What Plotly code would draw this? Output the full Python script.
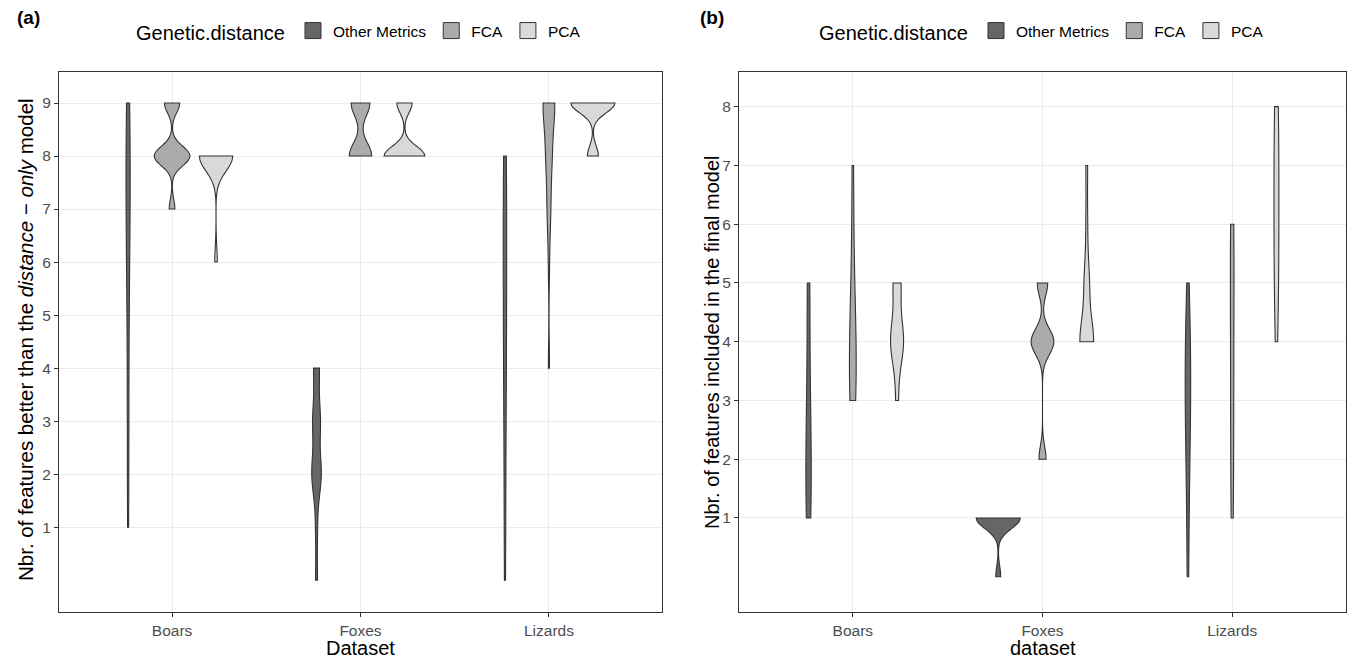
import numpy as np
import plotly.graph_objects as go

# ---------------- data ----------------
datasets = ["Boars", "Foxes", "Lizards"]
groups = ["Other Metrics", "FCA", "PCA"]

# Panel (a): number of runs (counts) per "number of features better than the distance-only model"
values_a = [0, 1, 2, 3, 4, 5, 6, 7, 8, 9]
a_boars_other = [0, 1, 1, 1, 1, 1, 2, 3, 3, 3]
a_boars_fca = [0, 0, 0, 0, 0, 0, 0, 20, 126, 54]
a_boars_pca = [0, 0, 0, 0, 0, 0, 1, 0, 13, 0]
a_foxes_other = [1, 1, 5, 4, 3, 0, 0, 0, 0, 0]
a_foxes_fca = [0, 0, 0, 0, 0, 0, 0, 0, 12, 10]
a_foxes_pca = [0, 0, 0, 0, 0, 0, 0, 0, 40, 15]
a_lizards_other = [1, 1, 1, 1, 2, 2, 2, 2, 3, 0]
a_lizards_fca = [0, 0, 0, 0, 1, 0, 1, 3, 5, 10]
a_lizards_pca = [0, 0, 0, 0, 0, 0, 0, 0, 6, 24]

# Panel (b): counts per "number of features included in the final model"
values_b = [0, 1, 2, 3, 4, 5, 6, 7, 8]
b_boars_other = [0, 3, 3, 2, 1, 2, 0, 0, 0]
b_boars_fca = [0, 0, 0, 4, 4, 2, 1, 1, 0]
b_boars_pca = [0, 0, 0, 1, 5, 3, 0, 0, 0]
b_foxes_other = [1, 9, 0, 0, 0, 0, 0, 0, 0]
b_foxes_fca = [0, 0, 11, 0, 35, 16, 0, 0, 0]
b_foxes_pca = [0, 0, 0, 0, 8, 3, 1, 1, 0]
b_lizards_other = [1, 1, 2, 3, 3, 1, 0, 0, 0]
b_lizards_fca = [0, 1, 1, 1, 1, 1, 2, 0, 0]
b_lizards_pca = [0, 0, 0, 0, 1, 2, 2, 2, 2]

ticks_a = [1, 2, 3, 4, 5, 6, 7, 8, 9]
ticks_b = [1, 2, 3, 4, 5, 6, 7, 8]

table_a = {
    ("Boars", "Other Metrics"): a_boars_other, ("Boars", "FCA"): a_boars_fca, ("Boars", "PCA"): a_boars_pca,
    ("Foxes", "Other Metrics"): a_foxes_other, ("Foxes", "FCA"): a_foxes_fca, ("Foxes", "PCA"): a_foxes_pca,
    ("Lizards", "Other Metrics"): a_lizards_other, ("Lizards", "FCA"): a_lizards_fca, ("Lizards", "PCA"): a_lizards_pca,
}
table_b = {
    ("Boars", "Other Metrics"): b_boars_other, ("Boars", "FCA"): b_boars_fca, ("Boars", "PCA"): b_boars_pca,
    ("Foxes", "Other Metrics"): b_foxes_other, ("Foxes", "FCA"): b_foxes_fca, ("Foxes", "PCA"): b_foxes_pca,
    ("Lizards", "Other Metrics"): b_lizards_other, ("Lizards", "FCA"): b_lizards_fca, ("Lizards", "PCA"): b_lizards_pca,
}

# ---------------- styling ----------------
FILLS = {"Other Metrics": "#666666", "FCA": "#ABABAB", "PCA": "#D9D9D9"}
OUTLINE = "#333333"
DODGE = 0.7 / 3          # dodge width between groups
FONT = "Liberation Sans, Arial, Helvetica, sans-serif"
W, H = 1349, 658


def bw_nrd0(x):
    x = np.asarray(x, dtype=float)
    hi = np.std(x, ddof=1)
    q75, q25 = np.percentile(x, [75, 25])
    lo = min(hi, (q75 - q25) / 1.34)
    if not lo:
        lo = hi or abs(x[0]) or 1.0
    return 0.9 * lo * len(x) ** -0.2


def kde_max(x, h):
    x = np.asarray(x, dtype=float)
    grid = np.linspace(x.min(), x.max(), 512)
    d = np.exp(-0.5 * ((grid[:, None] - x[None, :]) / h) ** 2).sum(1)
    return (d / (len(x) * h * np.sqrt(2 * np.pi))).max()


fig = go.Figure()

panels = [
    (values_a, table_a, "x", "y", "legend"),
    (values_b, table_b, "x2", "y2", "legend2"),
]

for values, table, xa, ya, leg in panels:
    samples, bws, peaks = {}, {}, {}
    for key, counts in table.items():
        s = np.repeat(np.asarray(values, dtype=float), counts)
        samples[key] = s
        bws[key] = bw_nrd0(s)
        peaks[key] = kde_max(s, bws[key])
    top = max(peaks.values())
    for ci, ds in enumerate(datasets):
        for gi, g in enumerate(groups):
            key = (ds, g)
            fig.add_trace(go.Violin(
                y=samples[key], x0=ci + 1 + (gi - 1) * DODGE,
                name=g, legendgroup=g, showlegend=False,
                width=DODGE * peaks[key] / top, bandwidth=bws[key],
                spanmode="hard", scalemode="width", side="both",
                fillcolor=FILLS[g], line=dict(color=OUTLINE, width=1.1),
                points=False, box_visible=False, meanline_visible=False,
                hoverinfo="skip", xaxis=xa, yaxis=ya,
            ))
    # legend keys (square swatches like ggplot's fill keys)
    for g in groups:
        fig.add_trace(go.Scatter(
            x=[None], y=[None], mode="markers", name=g, legendgroup=g,
            showlegend=True, legend=leg, xaxis=xa, yaxis=ya,
            marker=dict(symbol="square", size=16, color=FILLS[g],
                        line=dict(color=OUTLINE, width=1)),
        ))

axis_common = dict(
    showgrid=True, gridcolor="#EBEBEB", gridwidth=1, zeroline=False,
    showline=True, mirror=True, linecolor=OUTLINE, linewidth=1,
    ticks="outside", ticklen=4, tickcolor=OUTLINE, tickwidth=1,
    tickfont=dict(family=FONT, size=15.5, color="#4D4D4D"), automargin=False,
)

y_top, y_bot = 72, 612
ydom = [(H - y_bot) / H, (H - y_top) / H]

legend_common = dict(
    orientation="h", y=1 - 32 / H, yanchor="middle", itemsizing="trace",
    title=dict(text="Genetic.distance", side="left", font=dict(size=20, family=FONT)),
    font=dict(size=15.5, family=FONT), bgcolor="rgba(0,0,0,0)", traceorder="normal",
)

fig.update_layout(
    width=W, height=H, margin=dict(l=0, r=0, t=0, b=0),
    paper_bgcolor="white", plot_bgcolor="white",
    font=dict(family=FONT, color="black"),
    xaxis=dict(domain=[59 / W, 662 / W], type="linear", range=[0.4, 3.6],
               tickvals=[1, 2, 3], ticktext=datasets, anchor="y", **axis_common),
    yaxis=dict(domain=ydom, range=[-0.6, 9.585], tickvals=ticks_a, anchor="x", **axis_common),
    xaxis2=dict(domain=[739 / W, 1346 / W], type="linear", range=[0.4, 3.6],
                tickvals=[1, 2, 3], ticktext=datasets, anchor="y2", **axis_common),
    yaxis2=dict(domain=ydom, range=[-0.6, 8.59], tickvals=ticks_b, anchor="x2", **axis_common),
    showlegend=True,
    legend=dict(x=134 / W, xanchor="left", **legend_common),
    legend2=dict(x=817 / W, xanchor="left", **legend_common),
)

annots = [
    dict(text="<b>(a)</b>", x=15 / W, y=1 - 18 / H, xanchor="left", yanchor="middle", font=dict(size=19)),
    dict(text="<b>(b)</b>", x=698 / W, y=1 - 18 / H, xanchor="left", yanchor="middle", font=dict(size=19)),
    dict(text="Nbr. of features better than the <i>distance − only</i> model", x=25 / W,
         y=1 - 340 / H, xanchor="center", yanchor="middle", textangle=-90, font=dict(size=20.5)),
    dict(text="Nbr. of features included in the final model", x=712 / W,
         y=1 - 342 / H, xanchor="center", yanchor="middle", textangle=-90, font=dict(size=20)),
    dict(text="Dataset", x=360.5 / W, y=1 - 648 / H, xanchor="center", yanchor="middle", font=dict(size=20)),
    dict(text="dataset", x=1042.5 / W, y=1 - 648 / H, xanchor="center", yanchor="middle", font=dict(size=20)),
]
for a in annots:
    a.update(xref="paper", yref="paper", showarrow=False)
    a["font"].update(family=FONT, color="black")
fig.update_layout(annotations=annots)

fig.write_html("out.html")
